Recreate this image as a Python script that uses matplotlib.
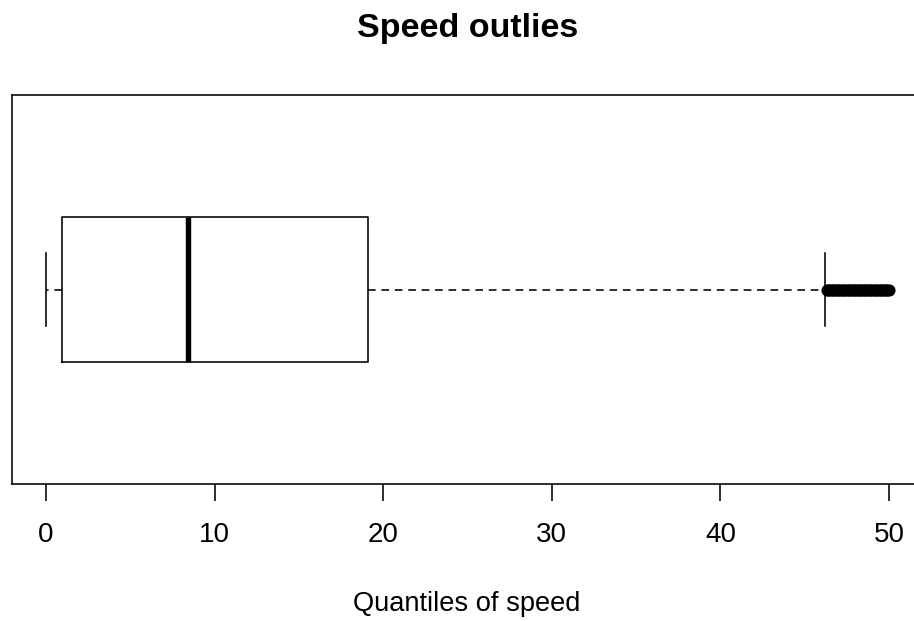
import matplotlib.pyplot as plt

plt.rcParams.update({'font.family': ['Liberation Sans', 'DejaVu Sans']})

# five-number summary of speed
speed_min = 0.0
speed_q1 = 0.97
speed_median = 8.4
speed_q3 = 19.1
speed_whisker_hi = 46.2
# values beyond the upper whisker
speed_outliers = [46.3, 46.4, 46.5, 46.6, 46.7, 46.8, 46.9, 47.0, 47.1, 47.2,
                  47.3, 47.4, 47.5, 47.6, 47.7, 47.8, 47.9, 48.0, 48.1, 48.2,
                  48.3, 48.4, 48.5, 48.6, 48.7, 48.8, 48.9, 49.0, 49.1, 49.2,
                  49.3, 49.4, 49.5, 49.6, 49.7, 49.8, 49.9, 50.0]
x_ticks = [0, 10, 20, 30, 40, 50]

fig = plt.figure(figsize=(9.14, 6.21), dpi=100)
ax = fig.add_axes([0.01346, 0.2206, 0.9961, 0.6264])

stats = [{
    'whislo': speed_min, 'q1': speed_q1, 'med': speed_median,
    'q3': speed_q3, 'whishi': speed_whisker_hi, 'fliers': speed_outliers,
}]
lw = 1.15
ax.bxp(stats, positions=[1], widths=0.4, capwidths=0.2, orientation='horizontal',
       showfliers=True,
       boxprops=dict(color='black', linewidth=lw),
       medianprops=dict(color='black', linewidth=3.9, solid_capstyle='butt'),
       whiskerprops=dict(color='black', linewidth=lw, linestyle=(0, (4.8, 3.6))),
       capprops=dict(color='black', linewidth=lw),
       flierprops=dict(marker='o', markerfacecolor='none', markeredgecolor='black',
                       markersize=6.3, markeredgewidth=2.4, linestyle='none'))

ax.set_xlim(-2, 52)
ax.set_ylim(0.46, 1.54)
ax.set_xticks(x_ticks)
ax.set_xticklabels([str(t) for t in x_ticks])
ax.set_yticks([])
ax.tick_params(axis='x', direction='out', length=12.2, width=lw, pad=15,
               labelsize=20, colors='black')
for s in ax.spines.values():
    s.set_linewidth(lw)
    s.set_color('black')

fig.text(467.5 / 914, 1 - 29 / 621, 'Speed outlies', ha='center', va='center',
         fontsize=24.5, fontweight='bold')
fig.text(466.5 / 914, 1 - 604 / 621, 'Quantiles of speed', ha='center', va='center',
         fontsize=19.6)

fig.savefig('out.png', dpi=100)
